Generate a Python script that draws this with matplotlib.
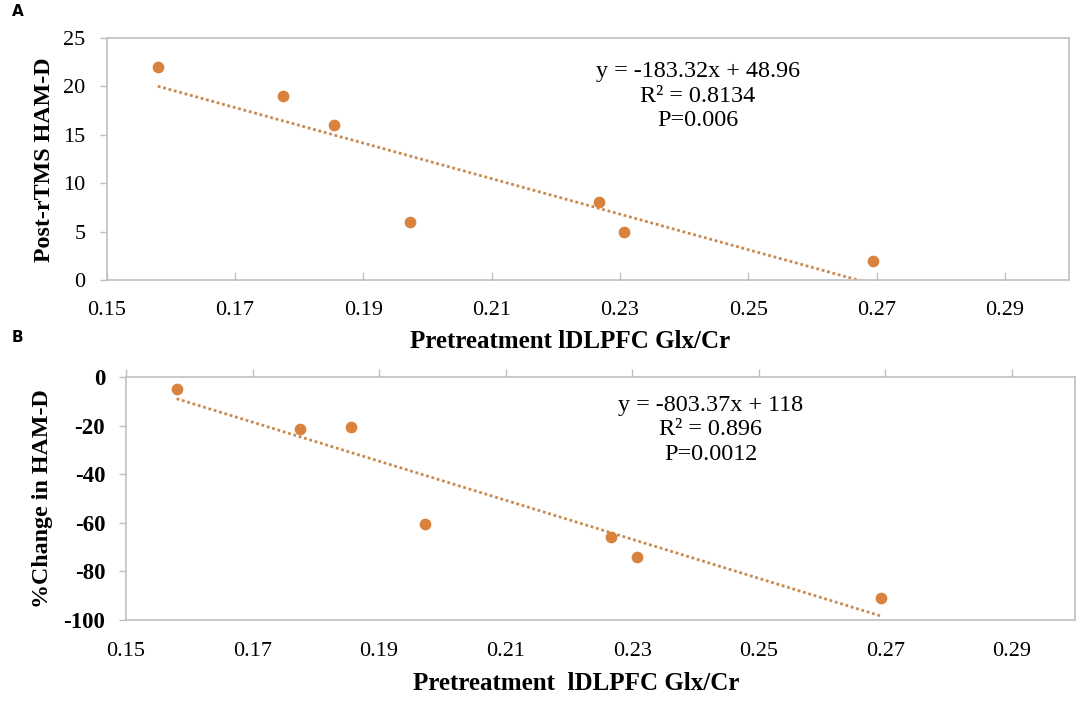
import numpy as np
import matplotlib
matplotlib.use("Agg")
import matplotlib.pyplot as plt

# values
glx_cr = [0.158, 0.1775, 0.1855, 0.1973, 0.2267, 0.2307, 0.2694]
post_hamd = [22, 19, 16, 6, 8, 5, 2]
pct_change = [-5.1, -21.2, -20.6, -60.4, -65.9, -74.2, -90.9]

fit_a = (-183.32, 48.96)
fit_b = (-803.37, 118)
text_a = "y = -183.32x + 48.96\nR\u00b2 = 0.8134\nP=0.006"
text_b = "y = -803.37x + 118\nR\u00b2 = 0.896\nP=0.0012"

x_ticks = [0.15, 0.17, 0.19, 0.21, 0.23, 0.25, 0.27, 0.29]
y_ticks_a = [0, 5, 10, 15, 20, 25]
y_ticks_b = [0, -20, -40, -60, -80, -100]

W, H = 1084, 704
DOT = "#d8823e"
TREND = "#c98a4e"
FRAME = "#c0c0c0"
SERIF = "Liberation Serif"

plt.rcParams["font.family"] = SERIF
plt.rcParams["axes.unicode_minus"] = False

fig = plt.figure(figsize=(W / 100, H / 100), dpi=100)


def px_axes(left, top, right, bottom):
    return fig.add_axes([left / W, 1 - bottom / H, (right - left) / W, (bottom - top) / H])


def style(ax):
    for s in ax.spines.values():
        s.set_color(FRAME)
        s.set_linewidth(1.2)
    ax.set_xlim(0.15, 0.30)
    ax.set_xticks(x_ticks)
    ax.set_xticklabels([f"{t:.2f}" for t in x_ticks], fontsize=16)
    ax.tick_params(axis="y", direction="out", length=5, width=1, color=FRAME, pad=10)
    ax.tick_params(axis="x", length=6, width=1, color=FRAME)


def trend(ax, fit):
    xs = np.array([min(glx_cr), max(glx_cr)])
    ax.plot(xs, fit[0] * xs + fit[1], ls=(0, (1, 1)), lw=2, color=TREND, zorder=2)


# panel A
ax1 = px_axes(106.5, 37.7, 1069, 280)
style(ax1)
ax1.set_ylim(0, 25)
ax1.set_yticks(y_ticks_a)
ax1.set_yticklabels([str(t) for t in y_ticks_a], fontsize=16)
ax1.tick_params(axis="x", direction="in", pad=15)
trend(ax1, fit_a)
ax1.scatter(glx_cr, post_hamd, s=55, color=DOT, zorder=3, clip_on=False)
ax1.text(0.6145, 0.759, text_a, transform=ax1.transAxes, ha="center", va="center",
         fontsize=17.4, linespacing=1.2)

# panel B
ax2 = px_axes(126, 377, 1075, 620)
style(ax2)
ax2.set_ylim(-100, 0)
ax2.set_yticks(y_ticks_b)
ax2.set_yticklabels([str(t) for t in y_ticks_b], fontsize=16.5, fontweight="bold")
ax2.tick_params(axis="x", direction="out", top=True, bottom=False,
                labeltop=False, labelbottom=True, pad=9.5)
trend(ax2, fit_b)
ax2.scatter(glx_cr, pct_change, s=55, color=DOT, zorder=3, clip_on=False)
ax2.text(0.6164, 0.782, text_b, transform=ax2.transAxes, ha="center", va="center",
         fontsize=17.4, linespacing=1.2)

# axis titles and panel letters
fig.text(45 / W, 1 - 160 / H, "Post-rTMS HAM-D", rotation=90, ha="center", va="center",
         fontsize=17.3, fontweight="bold")
fig.text(570 / W, 1 - 341 / H, "Pretreatment lDLPFC Glx/Cr", ha="center", va="center",
         fontsize=18, fontweight="bold")
fig.text(43 / W, 1 - 499 / H, "%Change in HAM-D", rotation=90, ha="center", va="center",
         fontsize=17.3, fontweight="bold")
fig.text(576 / W, 1 - 683 / H, "Pretreatment  lDLPFC Glx/Cr", ha="center", va="center",
         fontsize=18, fontweight="bold")
fig.text(12 / W, 1 - 11 / H, "A", ha="left", va="center", fontsize=11,
         fontweight="bold", family="DejaVu Sans")
fig.text(12 / W, 1 - 338 / H, "B", ha="left", va="center", fontsize=11,
         fontweight="bold", family="DejaVu Sans")

fig.savefig("out.png", dpi=100)
